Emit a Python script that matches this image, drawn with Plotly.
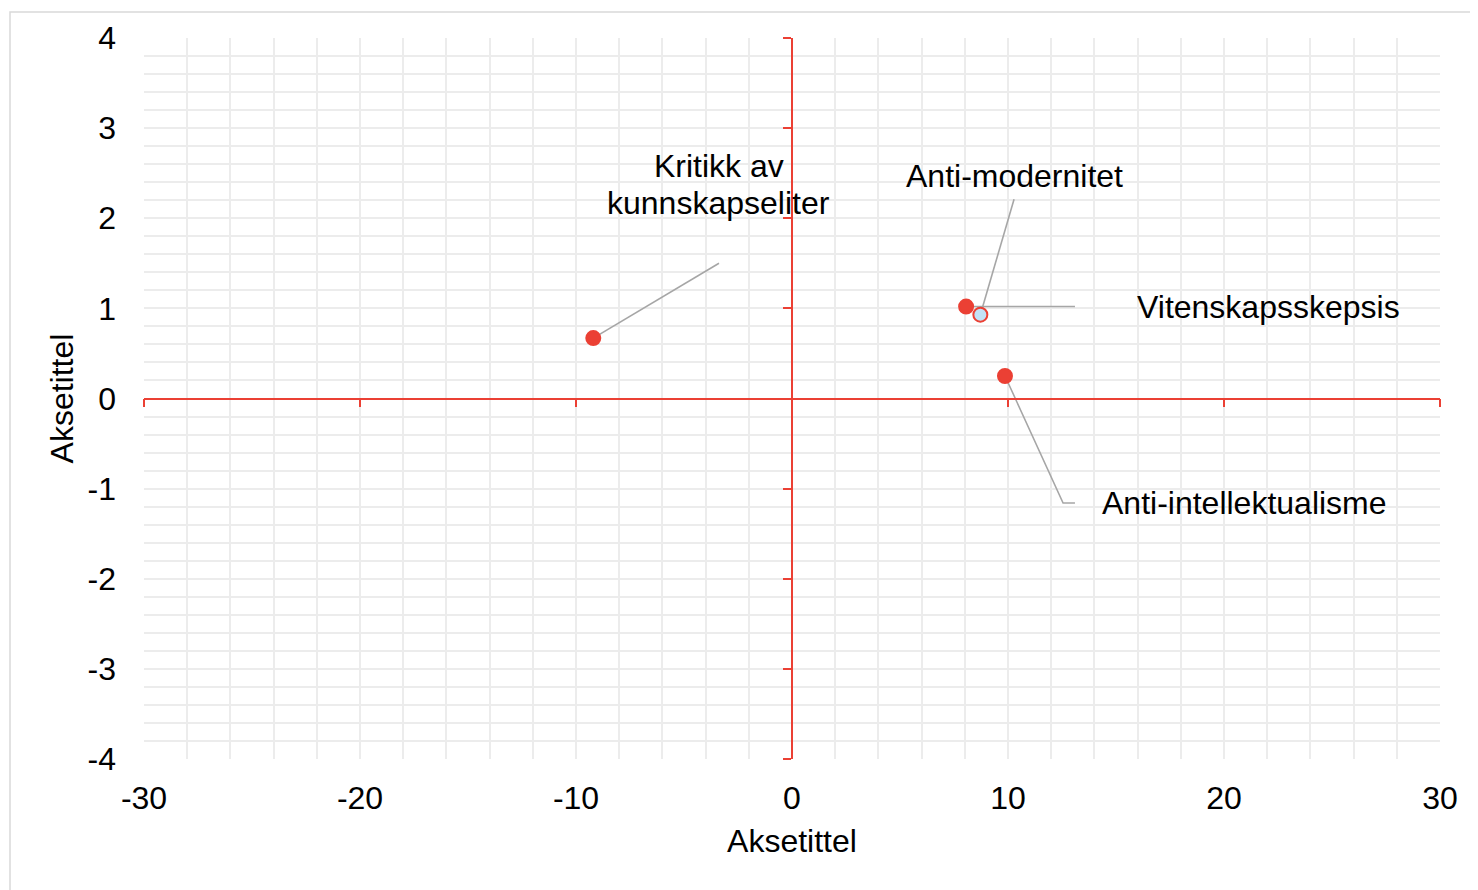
import plotly.graph_objects as go

# data
labels = ['Kritikk av<br>kunnskapseliter', 'Anti-modernitet', 'Vitenskapsskepsis', 'Anti-intellektualisme']
x_vals = [-9.2, 8.72, 8.06, 9.86]
y_vals = [0.67, 0.93, 1.02, 0.25]

x_ticks = [-30, -20, -10, 0, 10, 20, 30]
y_ticks = [-4, -3, -2, -1, 0, 1, 2, 3, 4]

red = '#EB4034'
grid = '#ececec'
font = 'Liberation Sans, Arial, sans-serif'

# where each label sits and how its leader line bends (layout, not data)
label_layout = [
    dict(tx=-3.38, ty=2.37, anchor='center', path=[(-3.38, 1.5)]),
    dict(tx=10.28, ty=2.47, anchor='center', path=[(10.28, 2.21)]),
    dict(tx=15.9, ty=1.01, anchor='left', path=[(13.1, None)]),
    dict(tx=14.25, ty=-1.16, anchor='left', path=[(12.55, -1.16), (13.1, -1.16)]),
]
line_gap = 0.41  # vertical distance between wrapped label lines, in y units

fig = go.Figure()

# leader lines
for i, lay in enumerate(label_layout):
    lx = [x_vals[i]]
    ly = [y_vals[i]]
    for px_, py_ in lay['path']:
        lx.append(px_)
        ly.append(y_vals[i] if py_ is None else py_)
    fig.add_trace(go.Scatter(
        x=lx, y=ly, mode='lines',
        line=dict(color='#a6a6a6', width=1.6),
        hoverinfo='skip', showlegend=False,
    ))

# points, the Anti-modernitet one is drawn highlighted
fill = [red, '#c3e2f6', red, red]
fig.add_trace(go.Scatter(
    x=x_vals, y=y_vals, mode='markers',
    marker=dict(size=14, color=fill, line=dict(color=red, width=2)),
    text=[l.replace('<br>', ' ') for l in labels],
    hoverinfo='text', showlegend=False,
))

# empty trace so the red axes through the origin get drawn
fig.add_trace(go.Scatter(x=[None], y=[None], xaxis='x2', yaxis='y2',
                         showlegend=False, hoverinfo='skip'))

for i, lay in enumerate(label_layout):
    parts = labels[i].split('<br>')
    top = lay['ty'] + line_gap * (len(parts) - 1) / 2
    for k, part in enumerate(parts):
        fig.add_annotation(
            x=lay['tx'], y=top - k * line_gap, text=part, showarrow=False,
            xanchor=lay['anchor'], yanchor='middle',
            font=dict(size=32, color='black', family=font),
        )

# light frame round the chart area
fig.add_shape(type='rect', xref='paper', yref='paper',
              x0=-0.1034, x1=1.04, y0=-0.2, y1=1.0359,
              line=dict(color='#d9d9d9', width=1.5), layer='below')

fig.update_layout(
    width=1478, height=890,
    margin=dict(l=136, r=46, t=27, b=139),
    paper_bgcolor='white', plot_bgcolor='white',
    font=dict(family=font, size=32, color='black'),
    xaxis=dict(
        range=[-30, 30], tickvals=x_ticks, ticktext=[str(v) for v in x_ticks],
        showgrid=True, gridcolor=grid, gridwidth=1.5,
        minor=dict(dtick=2, showgrid=True, gridcolor=grid, gridwidth=1.5),
        zeroline=False, showline=False, ticks='', ticklabelstandoff=17,
        title=dict(text='Aksetittel', standoff=14, font=dict(size=32)),
        tickfont=dict(size=32),
    ),
    yaxis=dict(
        range=[-4, 4], tickvals=y_ticks, ticktext=[str(v) for v in y_ticks],
        showgrid=True, gridcolor=grid, gridwidth=1.5,
        minor=dict(dtick=0.2, showgrid=True, gridcolor=grid, gridwidth=1.5),
        zeroline=False, showline=False, ticks='', ticklabelstandoff=27,
        title=dict(text='Aksetittel', standoff=4, font=dict(size=32)),
        tickfont=dict(size=32),
    ),
    xaxis2=dict(
        overlaying='x', anchor='free', position=0.5, range=[-30, 30],
        tickvals=x_ticks, ticks='outside', ticklen=8, tickwidth=1.6, tickcolor=red,
        showline=True, linecolor=red, linewidth=1.8,
        showgrid=False, zeroline=False, showticklabels=False,
    ),
    yaxis2=dict(
        overlaying='y', anchor='free', position=0.5, side='left', range=[-4, 4],
        tickvals=y_ticks, ticks='outside', ticklen=8, tickwidth=1.6, tickcolor=red,
        showline=True, linecolor=red, linewidth=1.8,
        showgrid=False, zeroline=False, showticklabels=False,
    ),
)

fig.write_html('out.html')
